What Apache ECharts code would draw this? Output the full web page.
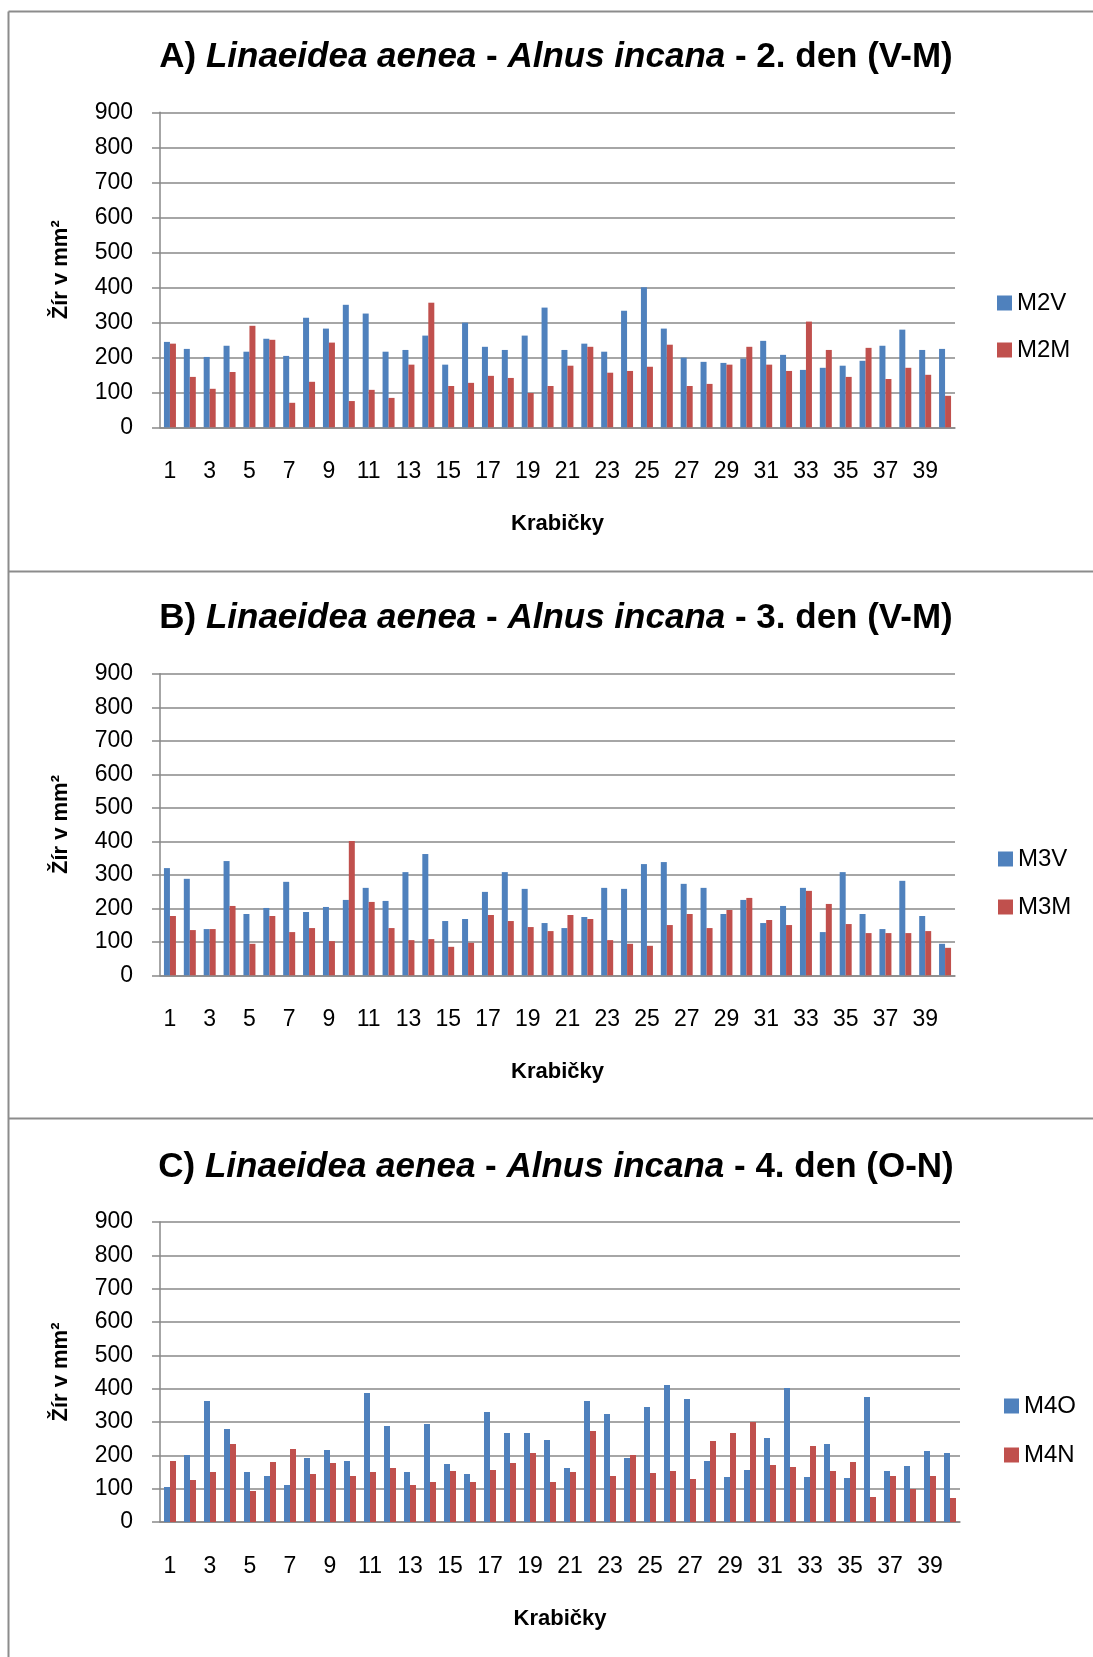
<!DOCTYPE html>
<html><head><meta charset="utf-8">
<script src="https://cdn.jsdelivr.net/npm/echarts@6/dist/echarts.min.js"></script>
<style>html,body{margin:0;padding:0;background:#fff}#c{width:1093px;height:1657px}</style>
</head><body><div id="c"></div><script>
const categories = ['1','2','3','4','5','6','7','8','9','10','11','12','13','14','15','16','17','18','19','20',
  '21','22','23','24','25','26','27','28','29','30','31','32','33','34','35','36','37','38','39','40'];
const yTicks = {min: 0, max: 900, step: 100};

// A) 2. den (V-M)
const m2v = [244,224,201,233,216,253,204,313,282,350,325,216,221,262,179,299,230,221,262,342,
  221,239,216,333,400,282,199,187,184,196,247,207,164,170,176,190,233,279,221,224];
const m2m = [239,144,110,158,290,250,70,130,242,75,107,84,179,356,118,127,147,141,98,118,
  176,230,156,161,173,236,118,124,179,230,179,161,302,221,144,227,138,170,150,90];
// B) 3. den (V-M)
const m3v = [320,288,138,341,183,201,279,189,204,225,261,222,308,362,162,168,249,308,258,156,
  141,174,261,258,332,338,273,261,183,225,156,207,261,129,308,183,138,282,177,94];
const m3m = [177,135,138,207,94,177,129,141,102,401,219,141,105,108,85,97,180,162,144,132,
  180,168,105,94,88,150,183,141,195,231,165,150,252,213,153,126,126,126,132,82];
// C) 4. den (O-N)
const m4o = [105,201,363,279,150,138,111,192,216,183,387,288,150,294,174,144,330,267,267,246,
  162,363,324,192,345,411,369,183,135,156,252,402,135,234,132,375,153,168,213,207];
const m4n = [183,126,150,234,93,180,219,144,177,138,150,162,111,120,153,120,156,177,207,120,
  150,273,138,201,147,153,129,243,267,300,171,165,228,153,180,75,138,99,138,72];

const panels = [
  {label:'A) ', day:' - 2. den (V-M)', names:['M2V','M2M'], data:[m2v,m2m],
   top:112.3, height:315, right:138, titleY:57, legendTop:291, legendLeft:997, legendGap:23},
  {label:'B) ', day:' - 3. den (V-M)', names:['M3V','M3M'], data:[m3v,m3m],
   top:673.8, height:301.5, right:138, titleY:618, legendTop:847, legendLeft:998, legendGap:24},
  {label:'C) ', day:' - 4. den (O-N)', names:['M4O','M4N'], data:[m4o,m4n],
   top:1222, height:300, right:133, titleY:1167, legendTop:1394, legendLeft:1004, legendGap:25}
];
const colors = ['#4F81BD', '#C0504D'];
const FONT = 'Liberation Sans';
const gridColor = '#898989';

const option = {
  animation: false,
  backgroundColor: '#ffffff',
  textStyle: {fontFamily: FONT},
  grid: [], xAxis: [], yAxis: [], series: [], legend: [], graphic: []
};

panels.forEach((p, k) => {
  option.grid.push({left: 160, right: p.right, top: p.top, height: p.height, containLabel: false});
  option.xAxis.push({
    type: 'category', gridIndex: k, data: categories,
    axisLine: {show: true, lineStyle: {color: gridColor, width: 1.5}},
    axisTick: {show: false},
    axisLabel: {interval: 1, margin: 33, color: '#000', fontSize: 23, fontFamily: FONT},
    name: 'Krabičky', nameLocation: 'middle', nameGap: 86,
    nameTextStyle: {fontSize: 22, fontWeight: 'bold', color: '#000', fontFamily: FONT}
  });
  option.yAxis.push({
    type: 'value', gridIndex: k, min: yTicks.min, max: yTicks.max, interval: yTicks.step,
    axisLine: {show: true, lineStyle: {color: gridColor, width: 1.5}},
    axisTick: {show: true, length: 8, lineStyle: {color: gridColor, width: 1.5}},
    splitLine: {show: true, lineStyle: {color: gridColor, width: 1.5}},
    axisLabel: {margin: 27, color: '#000', fontSize: 23, fontFamily: FONT},
    name: 'Žír v mm²', nameLocation: 'middle', nameGap: 88, nameRotate: 90,
    nameTextStyle: {fontSize: 22, fontWeight: 'bold', color: '#000', fontFamily: FONT}
  });
  p.names.forEach((nm, j) => {
    option.series.push({
      type: 'bar', name: nm, xAxisIndex: k, yAxisIndex: k, data: p.data[j],
      barWidth: 6, barGap: '0%', itemStyle: {color: colors[j]}
    });
  });
  option.legend.push({
    data: p.names, orient: 'vertical', left: p.legendLeft, top: p.legendTop, padding: 0,
    itemWidth: 15, itemHeight: 15, itemGap: p.legendGap, icon: 'rect',
    textStyle: {fontSize: 24, color: '#000', fontFamily: FONT}
  });
  option.graphic.push({
    type: 'text', x: 556, y: p.titleY,
    style: {
      text: '{b|' + p.label + '}{i|Linaeidea aenea}{b| - }{i|Alnus incana}{b|' + p.day + '}',
      align: 'center', verticalAlign: 'middle',
      rich: {
        b: {fontSize: 35, fontWeight: 'bold', fontFamily: FONT, fill: '#000', color: '#000'},
        i: {fontSize: 35, fontWeight: 'bold', fontStyle: 'italic', fontFamily: FONT, fill: '#000', color: '#000'}
      }
    }
  });
});

// panel borders
const bc = '#8c8c8c';
option.graphic.push(
  {type: 'line', shape: {x1: 8.5, y1: 11.5, x2: 8.5, y2: 1657}, style: {stroke: bc, lineWidth: 2}},
  {type: 'line', shape: {x1: 8.5, y1: 11.5, x2: 1093, y2: 11.5}, style: {stroke: bc, lineWidth: 2}},
  {type: 'line', shape: {x1: 8.5, y1: 571.5, x2: 1093, y2: 571.5}, style: {stroke: bc, lineWidth: 2}},
  {type: 'line', shape: {x1: 8.5, y1: 1118.5, x2: 1093, y2: 1118.5}, style: {stroke: bc, lineWidth: 2}}
);

const chart = echarts.init(document.getElementById('c'), null, {renderer: 'canvas'});
chart.setOption(option);
</script></body></html>
